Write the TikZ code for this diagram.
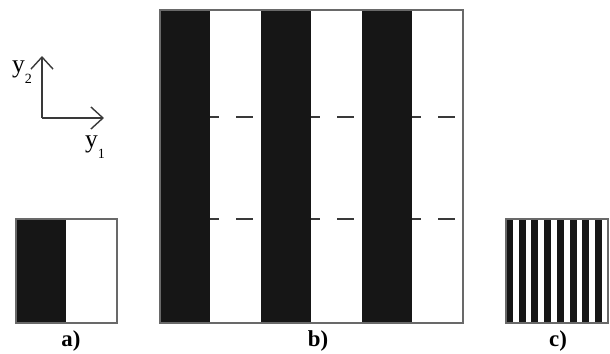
\documentclass[tikz,border=0pt]{standalone}
\usepackage{fontspec}
\setmainfont{Liberation Serif}
\usetikzlibrary{arrows.meta,positioning}
\definecolor{ink}{RGB}{22,22,22}
\definecolor{rim}{RGB}{105,105,105}

\begin{document}
\begin{tikzpicture}[x=0.02cm,y=-0.02cm,
  band/.style={fill=ink},
  rimline/.style={draw=rim,line width=0.7pt},
  cut/.style={draw=ink!85,line width=1.2pt},
  axis/.style={draw=ink!85,line width=0.8pt,-{Straight Barb[length=2.4mm,width=4.4mm]}},
  lbl/.style={font=\fontsize{13}{15}\selectfont\bfseries},
  ax/.style={font=\fontsize{14.5}{16}\selectfont}]
  \useasboundingbox (0,0) rectangle (610,353);
  % axes
  \coordinate (o) at (42,118);
  \coordinate (e1) at (104,118);
  \coordinate (e2) at (42,56);
  \draw[axis] (o) -- (e1);
  \draw[axis] (o) -- (e2);
  \node[ax] (ly2) at (22,72) {y\raisebox{-0.9ex}{\fontsize{8}{9}\selectfont 2}};
  \node[ax] (ly1) at (95,147) {y\raisebox{-0.9ex}{\fontsize{8}{9}\selectfont 1}};
  % a)
  \fill[band] (16,219) rectangle (66.5,323);
  \draw[rimline] (16,219) rectangle (117,323);
  \node[lbl] (la) at (71,341) {a)};
  % b)
  \foreach \k in {0,1,2}{
    \fill[band] (160+101*\k,10) rectangle (210.5+101*\k,323);
    \foreach \h in {117,219}{
      \draw[cut] (210.5+101*\k,\h) -- (219.5+101*\k,\h)
                 (236.5+101*\k,\h) -- (253.5+101*\k,\h);
    }
  }
  \draw[rimline] (160,10) rectangle (463,323);
  \node[lbl] (lb) at (318,341) {b)};
  % c)
  \foreach \k in {0,...,7}{
    \fill[band] (506+12.75*\k,219) rectangle (513+12.75*\k,323);
  }
  \draw[rimline] (506,219) rectangle (608,323);
  \node[lbl] (lc) at (558,341) {c)};
\end{tikzpicture}
\end{document}
